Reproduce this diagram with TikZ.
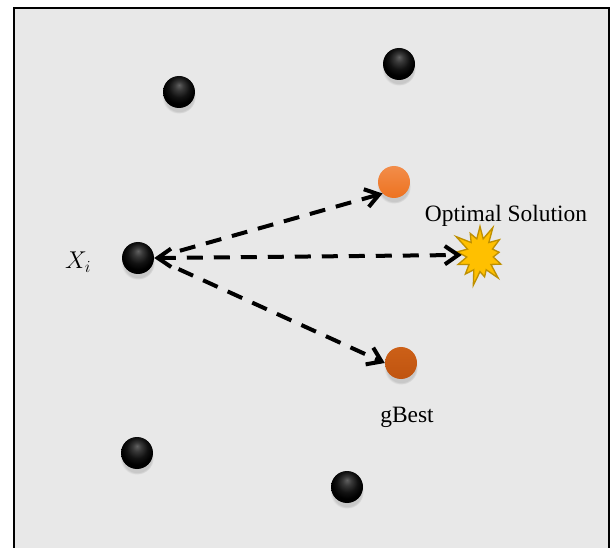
\documentclass[tikz,border=0pt]{standalone}
\usepackage{fontspec}
\setmainfont{Liberation Serif}
\usetikzlibrary{arrows.meta,shapes.symbols,shadows}
\definecolor{panel}{HTML}{E8E8E8}
\definecolor{lighttop}{HTML}{F28D4A}
\definecolor{lightbottom}{HTML}{ED7220}
\definecolor{darktop}{HTML}{CC6018}
\definecolor{darkbottom}{HTML}{C0540F}
\definecolor{starfill}{HTML}{FFC000}
\definecolor{starline}{HTML}{BF9000}
\pgfdeclareradialshading{darkball}{\pgfpoint{0bp}{11bp}}{color(0bp)=(black!62);
  color(7bp)=(black!78); color(16bp)=(black!93); color(24bp)=(black);
  color(50bp)=(black)}

\begin{document}
\begin{tikzpicture}[x=0.3mm, y=-0.3mm, >={Straight Barb[length=4mm,width=5.5mm]},
  particle/.style={circle, minimum size=9.6mm, inner sep=0pt, shading=darkball,
    circular drop shadow={shadow xshift=0mm, shadow yshift=-1.4mm,
    shadow scale=1.05, opacity=0.3}},
  orb/.style={particle, shading=axis, shading angle=0},
  flow/.style={line width=1.2mm, dash pattern=on 4.8mm off 3.3mm},
  txt/.style={font=\fontsize{20}{24}\selectfont, inner sep=0pt}]
  \useasboundingbox (0,0) rectangle (610,548);
  \clip (0,0) rectangle (610,548);
  \fill[panel] (14,8) rectangle (609,560);
  \draw[line width=0.75mm] (14,560) -- (14,8) -- (609,8) -- (609,560);
  % particles of the swarm
  \foreach \n/\x/\y in {pa/179/92, pb/399/64, pc/137/453, pd/347/487} {
    \node[particle] (\n) at (\x,\y) {};
  }
  \node[particle] (xi) at (138,258) {};
  \node[orb, top color=lighttop, bottom color=lightbottom] (pbest) at (394,182) {};
  \node[orb, top color=darktop, bottom color=darkbottom] (gbest) at (401,363) {};
  \node[starburst, starburst points=13, starburst point height=5mm,
    minimum width=18mm, minimum height=20mm, inner sep=0pt, fill=starfill,
    draw=starline, line width=0.4mm] (opt) at (480,255) {};
  % labels
  \node[txt, font=\fontsize{21}{24}\selectfont] (xilabel) at (78,262) {$X_i$};
  \node[txt] (optlabel) at (506,216) {Optimal Solution};
  \node[txt] (gbestlabel) at (407,417) {gBest};
  % moves
  \draw[flow, ->, shorten <=8mm] (xi.east) -- (pbest.south west);
  \draw[flow, <->] (xi.east) -- (opt.west);
  \draw[flow, ->, shorten <=8mm] (xi.east) -- (gbest.west);
\end{tikzpicture}
\end{document}
